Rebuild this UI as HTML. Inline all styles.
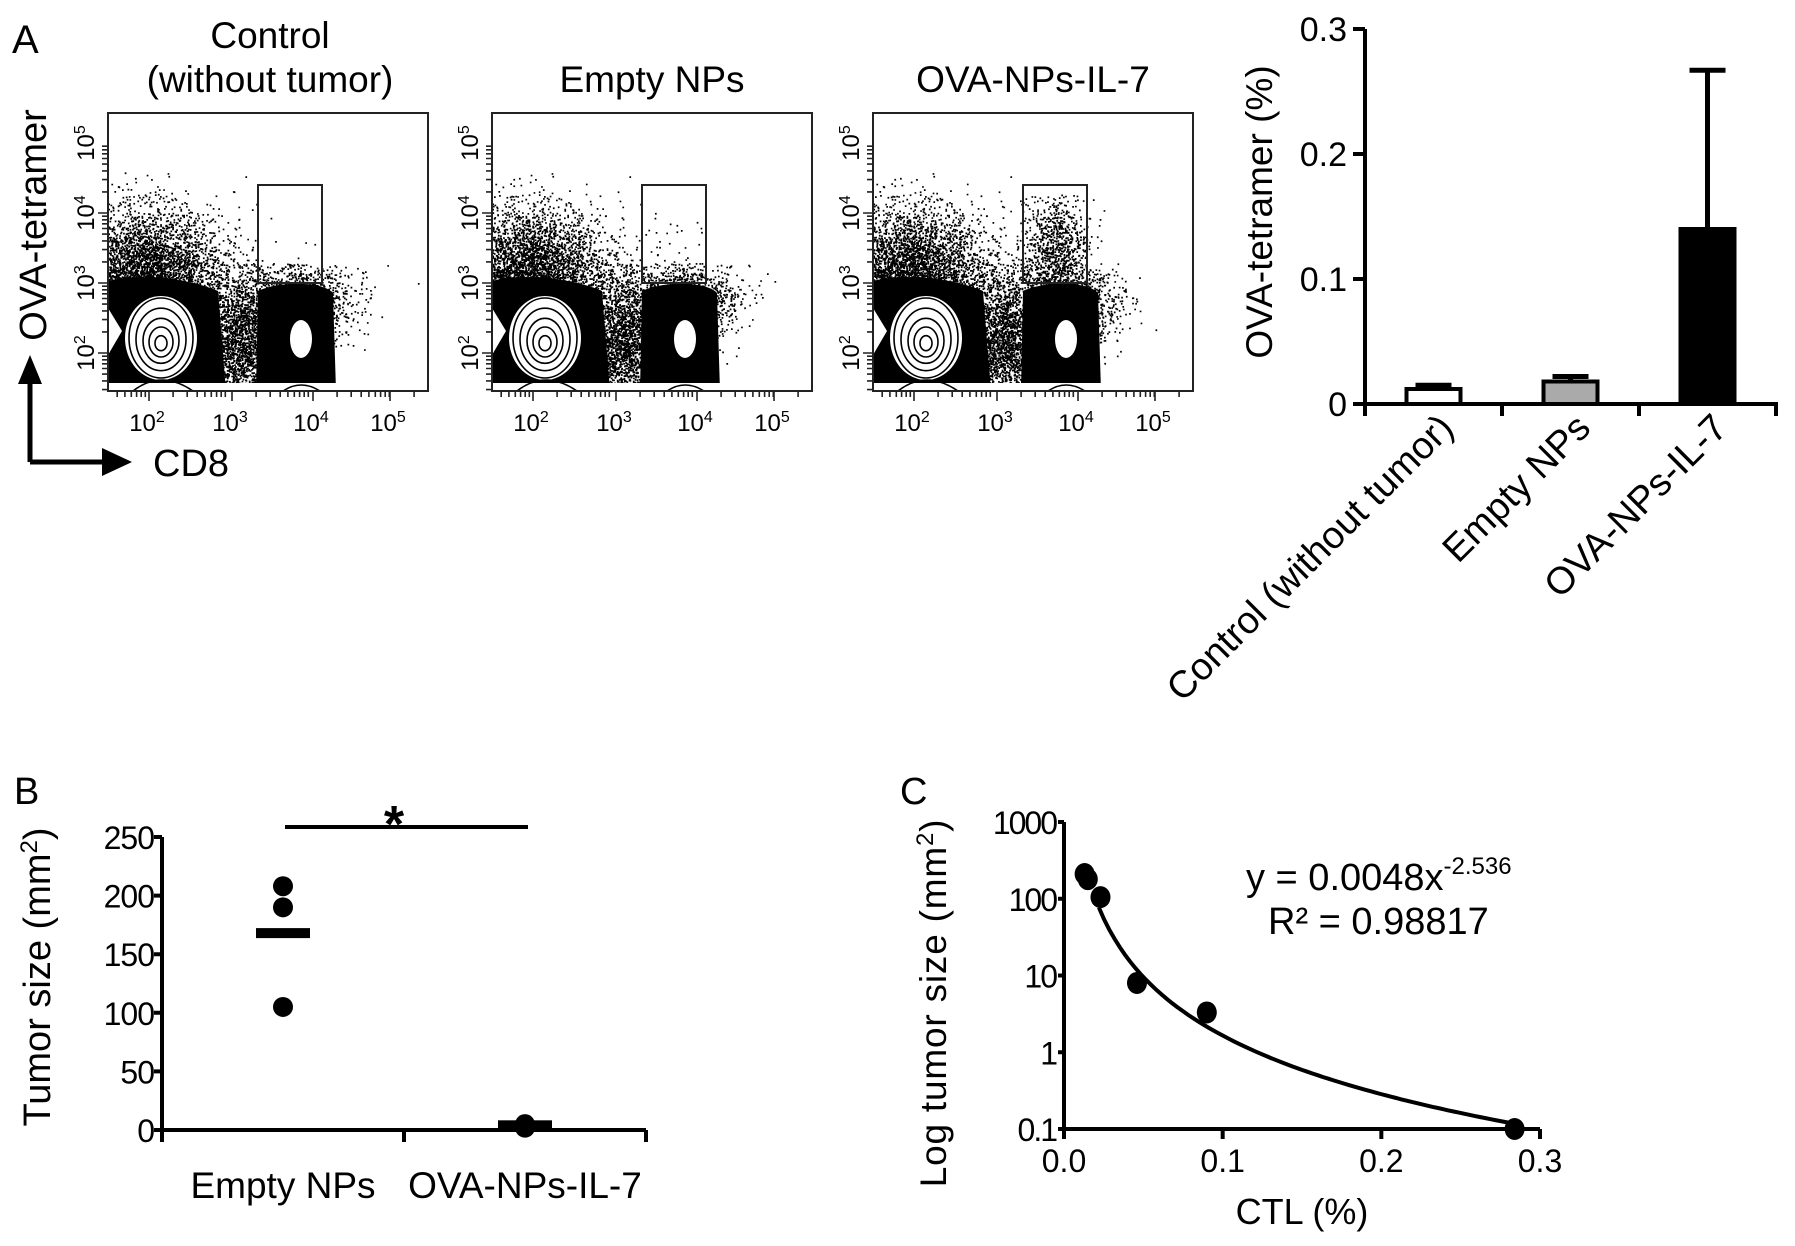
<!DOCTYPE html>
<html><head><meta charset="utf-8"><style>
html,body{margin:0;padding:0;background:#fff;}
svg{display:block;font-family:"Liberation Sans",Arial,sans-serif;}
</style></head><body>
<svg id="fig" width="1795" height="1246" viewBox="0 0 1795 1246" xmlns="http://www.w3.org/2000/svg">
<rect width="1795" height="1246" fill="#fff"/>
<text x="12" y="53" font-size="40">A</text>
<text x="270" y="48" font-size="37" text-anchor="middle">Control</text>
<text x="270" y="92" font-size="37" text-anchor="middle">(without tumor)</text>
<text x="652" y="92" font-size="37" text-anchor="middle">Empty NPs</text>
<text x="1033" y="92" font-size="37" text-anchor="middle">OVA-NPs-IL-7</text>
<text transform="translate(46,225) rotate(-90)" font-size="38" text-anchor="middle">OVA-tetramer</text>
<g>
<path d="M30,462 V378 M30,462 H108" stroke="#000" stroke-width="5" fill="none"/>
<path d="M18,384 L30,355 L42,384 Z" fill="#000"/>
<path d="M102,448 L132,462 L102,476 Z" fill="#000"/>
</g>
<text x="153" y="476" font-size="38">CD8</text>
<text x="14" y="804" font-size="38">B</text>
<text x="900" y="804" font-size="38">C</text>
<g id="layer"></g>
</svg>
<script>
// ---------- data ----------
const barCategories = ['Control (without tumor)', 'Empty NPs', 'OVA-NPs-IL-7'];
const barValues = [0.012, 0.018, 0.14];
const barErrors = [0.003, 0.004, 0.127];
const barTicks = [0, 0.1, 0.2, 0.3];
const barTickLabels = ['0', '0.1', '0.2', '0.3'];

const groupLabels = ['Empty NPs', 'OVA-NPs-IL-7'];
const emptyValues = [208, 190, 105];
const ovaValues = [5, 2];
const groupMeans = [168, 4];
const bTicks = [0, 50, 100, 150, 200, 250];

const ctlValues = [0.013, 0.015, 0.023, 0.046, 0.090, 0.284];
const tumorValues = [210, 180, 105, 8, 3.3, 0.1];
const cYTicks = [0.1, 1, 10, 100, 1000];
const cYTickLabels = ['0.1', '1', '10', '100', '1000'];
const cXTicks = [0, 0.1, 0.2, 0.3];
const cXTickLabels = ['0.0', '0.1', '0.2', '0.3'];
const fitA = 0.0048;
const fitB = -2.536;

const flowTitles = ['control', 'empty-nps', 'ova-nps-il-7'];
const gateCounts = [4, 30, 900];

// ---------- helpers ----------
const NS = 'http://www.w3.org/2000/svg';
const root = document.getElementById('layer');
function mk(tag, attrs, parent) {
  const e = document.createElementNS(NS, tag);
  for (const k in attrs) e.setAttribute(k, attrs[k]);
  (parent || root).appendChild(e);
  return e;
}
let seed = 12345;
function rnd() { seed = (seed * 1103515245 + 12345) % 2147483648; return seed / 2147483648; }
function gauss() { let u = rnd() || 1e-6, v = rnd(); return Math.sqrt(-2 * Math.log(u)) * Math.cos(2 * Math.PI * v); }

// ---------- flow plots ----------
const flowX = [108, 492, 873];
const FW = 320, FH = 278, FY = 113;
flowX.forEach((x0, p) => {
  const g = mk('g', {});
  
  
  const clipId = 'clip' + p;
  const cp = mk('clipPath', { id: clipId }, g);
  mk('rect', { x: x0, y: FY, width: FW, height: FH }, cp);
  const inner = mk('g', { 'clip-path': 'url(#' + clipId + ')' }, g);
  const lm = mk('path', { d: `M${x0},${FY+168} C${x0+30},${FY+160} ${x0+80},${FY+165} ${x0+110},${FY+178} L${x0+118},${FY+FH} L${x0},${FY+FH} Z`, fill: '#000' }, inner);
  
  
  const rm = mk('path', { d: `M${x0+150},${FY+178} C${x0+170},${FY+168} ${x0+215},${FY+168} ${x0+225},${FY+180} L${x0+228},${FY+FH} L${x0+148},${FY+FH} Z`, fill: '#000' }, inner);
  
  
  let d = '';
  const addDots = (n, cx, cy, sx, sy, ymin) => {
    for (let i = 0; i < n; i++) {
      const px = cx + gauss() * sx, py = cy + gauss() * sy;
      if (py < (ymin || 0) || py > FH - 6 || px < 0 || px > FW) continue;
      d += `M${(x0 + px).toFixed(1)},${(FY + py).toFixed(1)}h1.7v1.7h-1.7z`;
    }
  };
  addDots(5000, 35, 160, 40, 32, 55);
  addDots(2600, 130, 230, 22, 35, 150);
  addDots(1500, 190, 190, 28, 22, 150);
  addDots(gateCounts[p], 182, 135, 16, 28, 80);
  const dots = mk('path', { d: d, fill: '#000' }, inner);
  
  
  mk('ellipse', { cx: x0 + 53, cy: FY + 225, rx: 36, ry: 42, fill: '#fff' }, inner);
  [32, 25, 18, 12, 6].forEach((r) => {
    mk('ellipse', { cx: x0 + 53, cy: FY + 225 + (32 - r) * 0.2, rx: r, ry: r * 1.25, fill: 'none', stroke: '#000', 'stroke-width': 1.6 }, inner);
  });
  mk('path', { d: `M${x0},${FY+195} L${x0+14},${FY+218} L${x0},${FY+242} Z`, fill: '#fff' }, inner);
  mk('ellipse', { cx: x0 + 193, cy: FY + 226, rx: 11, ry: 19, fill: '#fff' }, inner);
  mk('rect', { x: x0, y: FY + FH - 8, width: FW, height: 8, fill: '#fff' }, inner);
  mk('path', { d: `M${x0+25},${FY+FH} Q${x0+53},${FY+FH-22} ${x0+85},${FY+FH} M${x0+175},${FY+FH} Q${x0+193},${FY+FH-12} ${x0+212},${FY+FH}`, fill: 'none', stroke: '#000', 'stroke-width': 1.5 }, inner);
  const fr = mk('rect', { x: x0, y: FY, width: FW, height: FH, fill: 'none', stroke: '#222', 'stroke-width': 2 }, g);
  
  
  const gate = mk('rect', { x: x0 + 150, y: 185, width: 64, height: 98, fill: 'none', stroke: '#222', 'stroke-width': 2 }, g);
  
  
  let t = '';
  const yDec = [30, 100, 170, 240];
  for (let k = -1; k < 4; k++) {
    const base = (k === -1 ? yDec[0] : yDec[k]) + 70;
    for (let m = 1; m <= 9; m++) {
      const y = FY + base - Math.log10(m) * 70;
      if (y < FY + 2 || y > FY + FH) continue;
      t += `M${x0},${y.toFixed(1)}h${m === 1 ? -10 : -6}`;
    }
  }
  const xDec = [41, 124, 205, 282];
  for (let k = -1; k < 4; k++) {
    const base = (k === -1 ? xDec[0] - 80 : xDec[k]);
    for (let m = 1; m <= 9; m++) {
      const x = x0 + base + Math.log10(m) * 80;
      if (x < x0 + 2 || x > x0 + FW) continue;
      t += `M${x.toFixed(1)},${FY + FH}v${m === 1 ? 10 : 6}`;
    }
  }
  const tk = mk('path', { d: t, stroke: '#222', 'stroke-width': 1.6, fill: 'none' }, g);
  
  
  ['5', '4', '3', '2'].forEach((e, i) => {
    const tx = mk('text', { transform: `translate(${x0 - 14},${FY + yDec[i]}) rotate(-90)`, 'font-size': 24, 'text-anchor': 'middle' }, g);
    
    
    tx.innerHTML = `10<tspan dy="-9" font-size="16">${e}</tspan>`;
  });
  ['2', '3', '4', '5'].forEach((e, i) => {
    const tx = mk('text', { x: x0 + xDec[i] - 2, y: FY + FH + 40, 'font-size': 24, 'text-anchor': 'middle' }, g);
    
    
    tx.innerHTML = `10<tspan dy="-9" font-size="16">${e}</tspan>`;
  });
});

// ---------- bar chart ----------
const BX0 = 1365, BX1 = 1776, BY0 = 404, BY1 = 29;
const yBar = (v) => BY0 - v / 0.3 * (BY0 - BY1);
const bandW = (BX1 - BX0) / barCategories.length;
const xBar = (i) => BX0 + bandW * (i + 0.5);
const barFill = ['#fff', '#aaa', '#000'];
const gb = mk('g', {});


barCategories.forEach((c, i) => {
  const cx = xBar(i);
  const e = mk('path', { d: `M${cx},${yBar(barValues[i])} V${yBar(barValues[i] + barErrors[i])} M${cx - 18},${yBar(barValues[i] + barErrors[i])} H${cx + 18}`, stroke: '#000', 'stroke-width': 5, fill: 'none' }, gb);
  
  
  const r = mk('rect', { x: cx - 27, y: yBar(barValues[i]), width: 54, height: yBar(0) - yBar(barValues[i]), fill: barFill[i], stroke: '#000', 'stroke-width': 4 }, gb);
  
  
  const l = mk('text', { transform: `translate(${cx + 22},430) rotate(-45)`, 'font-size': 38, 'text-anchor': 'end' }, gb);
  
  
  l.textContent = c;
});
let ba = `M${BX0},${BY1} V${BY0} H${BX1} V${BY0 + 12}`;
for (let i = 0; i <= barCategories.length; i++) ba += `M${BX0 + bandW * i},${BY0} v12`;
barTicks.forEach((v) => { ba += `M${BX0},${yBar(v)} h-12`; });
const bax = mk('path', { d: ba, stroke: '#000', 'stroke-width': 4, fill: 'none' }, gb);


barTicks.forEach((v, i) => {
  const t = mk('text', { x: BX0 - 18, y: yBar(v) + 12, 'font-size': 34, 'text-anchor': 'end' }, gb);
  
  
  t.textContent = barTickLabels[i];
});
const byt = mk('text', { transform: 'translate(1272,212) rotate(-90)', 'font-size': 37, 'text-anchor': 'middle' }, gb);


byt.textContent = 'OVA-tetramer (%)';

// ---------- panel B ----------
const PBX0 = 162, PBX1 = 646, PBY0 = 1130, PBY1 = 837;
const yB = (v) => PBY0 - v * (PBY0 - PBY1) / 250;
const xB = (i) => PBX0 + (PBX1 - PBX0) * (i + 0.5) / groupLabels.length;
const gB = mk('g', {});


let pb = `M${PBX0},${PBY1} V${PBY0} H${PBX1}`;
for (let i = 0; i <= groupLabels.length; i++) pb += `M${PBX0 + (PBX1 - PBX0) * i / groupLabels.length},${PBY0} v12`;
bTicks.forEach((v) => { pb += `M${PBX0},${yB(v)} h-8`; });
const pba = mk('path', { d: pb, stroke: '#000', 'stroke-width': 4, fill: 'none' }, gB);


bTicks.forEach((v) => {
  const t = mk('text', { x: PBX0 - 8, y: yB(v) + 12, 'font-size': 32, 'text-anchor': 'end', 'letter-spacing': -1 }, gB);
  
  
  t.textContent = v;
});
groupLabels.forEach((l, i) => {
  const t = mk('text', { x: xB(i), y: 1198, 'font-size': 37, 'text-anchor': 'middle' }, gB);
  
  
  t.textContent = l;
  const m = mk('rect', { x: xB(i) - 27, y: yB(groupMeans[i]) - 5, width: 54, height: 10, fill: '#000' }, gB);
  
  
});
[emptyValues, ovaValues].forEach((arr, i) => {
  arr.forEach((v) => {
    const c = mk('circle', { cx: xB(i), cy: yB(v), r: 10, fill: '#000' }, gB);
    
    
  });
});
const sig = mk('path', { d: `M${xB(0) + 2},827 H${xB(1) + 3}`, stroke: '#000', 'stroke-width': 4 }, gB);


const star = mk('text', { x: (xB(0) + xB(1)) / 2 - 10, y: 842, 'font-size': 52, 'text-anchor': 'middle', 'font-weight': 'bold' }, gB);


star.textContent = '*';
const bt = mk('text', { transform: 'translate(50,977) rotate(-90)', 'font-size': 38, 'text-anchor': 'middle' }, gB);


bt.innerHTML = 'Tumor size (mm<tspan dy="-13" font-size="24">2</tspan><tspan dy="13">)</tspan>';

// ---------- panel C ----------
const CX0 = 1064, CX1 = 1540, CY0 = 1129, CY1 = 822;
const xC = (v) => CX0 + v / 0.3 * (CX1 - CX0);
const yC = (v) => CY0 - (Math.log10(v) + 1) * (CY0 - CY1) / 4;
const gC = mk('g', {});


let pc = `M${CX0},${CY1} V${CY0} H${CX1}`;
cXTicks.forEach((v) => { pc += `M${xC(v)},${CY0} v10`; });
cYTicks.forEach((v) => { pc += `M${CX0},${yC(v)} h-6`; });
const pca = mk('path', { d: pc, stroke: '#000', 'stroke-width': 4, fill: 'none' }, gC);


cYTicks.forEach((v, i) => {
  const t = mk('text', { x: CX0 - 8, y: yC(v) + 12, 'font-size': 32, 'text-anchor': 'end', 'letter-spacing': -2 }, gC);
  
  
  t.textContent = cYTickLabels[i];
});
cXTicks.forEach((v, i) => {
  const t = mk('text', { x: xC(v), y: 1172, 'font-size': 32, 'text-anchor': 'middle' }, gC);
  
  
  t.textContent = cXTickLabels[i];
});
let cd = '';
for (let k = 0; k <= 80; k++) {
  const x = 0.022 + (0.285 - 0.022) * k / 80;
  const y = fitA * Math.pow(x, fitB);
  cd += (k ? 'L' : 'M') + xC(x).toFixed(1) + ',' + yC(y).toFixed(1);
}
const fit = mk('path', { d: cd, stroke: '#000', 'stroke-width': 4, fill: 'none' }, gC);


ctlValues.forEach((v, i) => {
  const c = mk('ellipse', { cx: xC(v), cy: yC(tumorValues[i]), rx: 10, ry: 11, fill: '#000' }, gC);
  
  
});
const eq = mk('text', { x: 1246, y: 890, 'font-size': 38 }, gC);


eq.innerHTML = 'y = 0.0048x<tspan dy="-16" font-size="24">-2.536</tspan>';
const r2 = mk('text', { x: 1268, y: 934, 'font-size': 38 }, gC);


r2.textContent = 'R² = 0.98817';
const cyt = mk('text', { transform: 'translate(946,1003) rotate(-90)', 'font-size': 37, 'text-anchor': 'middle', 'letter-spacing': 0.8 }, gC);


cyt.innerHTML = 'Log tumor size (mm<tspan dy="-13" font-size="24">2</tspan><tspan dy="13">)</tspan>';
const cxt = mk('text', { x: 1302, y: 1224, 'font-size': 36, 'text-anchor': 'middle' }, gC);


cxt.textContent = 'CTL (%)';
</script>
</body></html>
